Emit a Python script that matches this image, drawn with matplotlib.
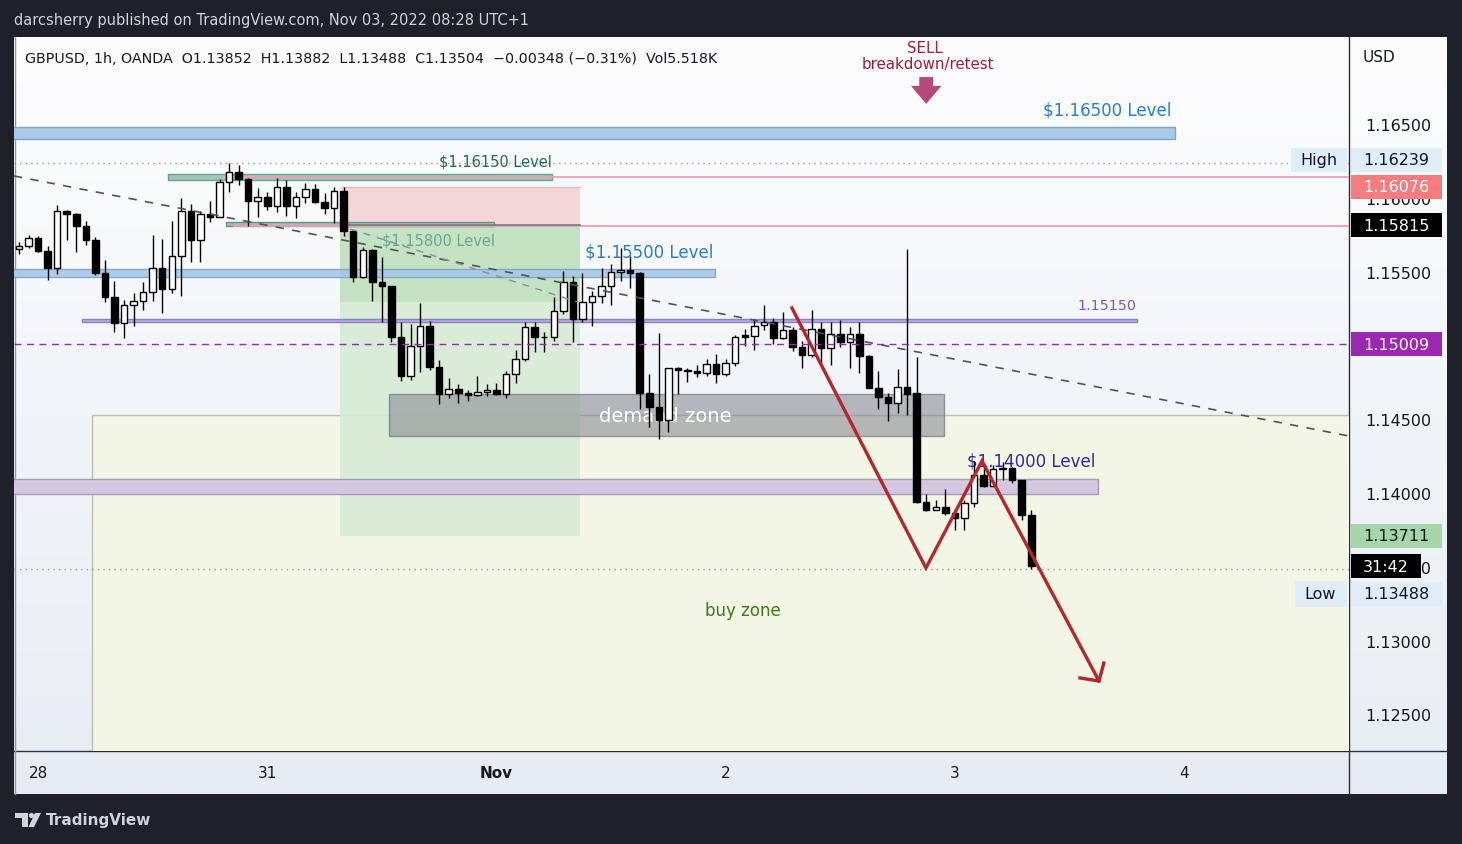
import numpy as np
import matplotlib
matplotlib.use("Agg")
import matplotlib.pyplot as plt
from matplotlib.patches import Rectangle, Polygon, Circle
from matplotlib.colors import LinearSegmentedColormap

# GBPUSD 1h (OANDA) hourly candles (bar index 0 = first visible)
opens = [1.15653, 1.15671, 1.15729, 1.15641, 1.15522, 1.15908, 1.15888, 1.15810, 1.15716, 1.15492,
         1.15329, 1.15153, 1.15273, 1.15298, 1.15359, 1.15524, 1.15383, 1.15603, 1.15908, 1.15716,
         1.15890, 1.15872, 1.16105, 1.16173, 1.16129, 1.15980, 1.16003, 1.15946, 1.16071, 1.15946,
         1.16003, 1.16059, 1.15973, 1.15933, 1.16048, 1.15777, 1.15463, 1.15646, 1.15431, 1.15404,
         1.15058, 1.14793, 1.14993, 1.15130, 1.14855, 1.14669, 1.14705, 1.14678, 1.14667, 1.14681,
         1.14697, 1.14674, 1.14803, 1.14911, 1.15122, 1.15058, 1.15060, 1.15230, 1.15427, 1.15176,
         1.15291, 1.15336, 1.15404, 1.15495, 1.15508, 1.15488, 1.14676, 1.14583, 1.14495, 1.14850,
         1.14830, 1.14828, 1.14810, 1.14871, 1.14803, 1.14878, 1.15072, 1.15064, 1.15135, 1.15156,
         1.15047, 1.15101, 1.14990, 1.14936, 1.15108, 1.14979, 1.15074, 1.15020, 1.15078, 1.14929,
         1.14708, 1.14651, 1.14613, 1.14715, 1.14676, 1.13939, 1.13885, 1.13905, 1.13867, 1.13833,
         1.13935, 1.14125, 1.14048, 1.14161, 1.14172, 1.14088, 1.13852]
highs = [1.15698, 1.15747, 1.15743, 1.15671, 1.15951, 1.15917, 1.15897, 1.15842, 1.15734, 1.15578,
         1.15436, 1.15307, 1.15354, 1.15427, 1.15747, 1.15720, 1.15842, 1.15996, 1.15956, 1.15908,
         1.15978, 1.16127, 1.16239, 1.16222, 1.16132, 1.16066, 1.16037, 1.16134, 1.16122, 1.16037,
         1.16098, 1.16093, 1.16030, 1.16071, 1.16075, 1.15780, 1.15668, 1.15653, 1.15596, 1.15404,
         1.15156, 1.15144, 1.15286, 1.15162, 1.14900, 1.14778, 1.14737, 1.14701, 1.14791, 1.14737,
         1.14744, 1.14825, 1.14968, 1.15156, 1.15156, 1.15088, 1.15325, 1.15505, 1.15467, 1.15490,
         1.15370, 1.15522, 1.15551, 1.15657, 1.15607, 1.15499, 1.14805, 1.15081, 1.14850, 1.14852,
         1.14846, 1.14866, 1.14907, 1.14945, 1.14905, 1.15072, 1.15110, 1.15178, 1.15273, 1.15185,
         1.15223, 1.15128, 1.15027, 1.15239, 1.15156, 1.15156, 1.15171, 1.15126, 1.15156, 1.14935,
         1.14825, 1.14676, 1.14839, 1.15653, 1.14922, 1.13991, 1.13951, 1.14025, 1.13870, 1.13953,
         1.14217, 1.14206, 1.14188, 1.14210, 1.14177, 1.14090, 1.13882]
lows = [1.15619, 1.15659, 1.15634, 1.15444, 1.15483, 1.15716, 1.15634, 1.15682, 1.15478, 1.15295,
        1.15092, 1.15047, 1.15133, 1.15241, 1.15302, 1.15221, 1.15354, 1.15336, 1.15566, 1.15566,
        1.15836, 1.15868, 1.16041, 1.16088, 1.15810, 1.15872, 1.15919, 1.15901, 1.15878, 1.15861,
        1.15962, 1.15962, 1.15890, 1.15827, 1.15743, 1.15429, 1.15454, 1.15302, 1.15160, 1.15024,
        1.14760, 1.14766, 1.14817, 1.14834, 1.14602, 1.14642, 1.14608, 1.14624, 1.14654, 1.14654,
        1.14663, 1.14644, 1.14742, 1.14895, 1.14952, 1.14956, 1.15027, 1.15212, 1.15020, 1.15156,
        1.15133, 1.15284, 1.15273, 1.15438, 1.15386, 1.14568, 1.14444, 1.14369, 1.14414, 1.14669,
        1.14749, 1.14787, 1.14793, 1.14742, 1.14793, 1.14861, 1.14997, 1.14970, 1.15105, 1.15008,
        1.15042, 1.14959, 1.14850, 1.14922, 1.14878, 1.14868, 1.14986, 1.14850, 1.14810, 1.14708,
        1.14568, 1.14488, 1.14539, 1.14529, 1.13935, 1.13878, 1.13882, 1.13849, 1.13749, 1.13749,
        1.13905, 1.14041, 1.14045, 1.14088, 1.14071, 1.13817, 1.13488]
closes = [1.15671, 1.15729, 1.15641, 1.15522, 1.15908, 1.15888, 1.15810, 1.15716, 1.15492, 1.15329,
          1.15153, 1.15273, 1.15298, 1.15359, 1.15524, 1.15383, 1.15603, 1.15908, 1.15716, 1.15890,
          1.15872, 1.16105, 1.16173, 1.16129, 1.15980, 1.16003, 1.15946, 1.16071, 1.15946, 1.16003,
          1.16059, 1.15973, 1.15933, 1.16048, 1.15777, 1.15463, 1.15646, 1.15431, 1.15404, 1.15058,
          1.14793, 1.14993, 1.15130, 1.14855, 1.14669, 1.14705, 1.14678, 1.14667, 1.14681, 1.14697,
          1.14674, 1.14803, 1.14911, 1.15122, 1.15058, 1.15060, 1.15230, 1.15427, 1.15176, 1.15291,
          1.15336, 1.15404, 1.15495, 1.15508, 1.15488, 1.14676, 1.14583, 1.14495, 1.14850, 1.14830,
          1.14828, 1.14810, 1.14871, 1.14803, 1.14878, 1.15058, 1.15058, 1.15133, 1.15156, 1.15047,
          1.15101, 1.14990, 1.14936, 1.15108, 1.14979, 1.15074, 1.15020, 1.15078, 1.14929, 1.14708,
          1.14651, 1.14613, 1.14715, 1.14674, 1.13939, 1.13885, 1.13905, 1.13867, 1.13833, 1.13935,
          1.14125, 1.14048, 1.14161, 1.14172, 1.14088, 1.13852, 1.13504]
volume_k = 5.518

# time axis (bar index of each day start)
day_ticks = [2, 26, 50, 74, 98, 122]
day_labels = ["28", "31", "Nov", "2", "3", "4"]
price_ticks = [1.125, 1.130, 1.135, 1.140, 1.145, 1.150, 1.155, 1.160, 1.165]

# drawings: (bar_start, bar_end, price_low, price_high)
band_1165 = (-1, 121.05, 1.16398, 1.16480)
band_11615 = (15.6, 55.8, 1.16121, 1.16161)
band_1158 = (21.7, 49.7, 1.15809, 1.15836)
band_1155 = (-1, 72.9, 1.15464, 1.15518)
band_11515 = (6.6, 117.1, 1.15159, 1.15179)
band_114 = (-1, 113.0, 1.13993, 1.14095)
demand_zone = (38.7, 96.9, 1.14386, 1.14669)
buy_zone = (7.6, 145, 1.10, 1.14528)
# short position tool
pos_start, pos_end = 33.8, 58.7
stop_price, entry_price, target_price = 1.16076, 1.15815, 1.13711
open_pnl_price = 1.15294
pink_lines = [(23.0, 1.16141), (22.5, 1.15812)]
day_high, day_low = 1.16239, 1.13488
price_line = 1.15009
trend_main = ([-0.52, 139.27], [1.16148, 1.14386])
trend_faint = ([34.7, 58.5], [1.15789, 1.15294])
zigzag_x = [80.94, 94.97, 100.84, 113.09]
zigzag_y = [1.15253, 1.13492, 1.14217, 1.12726]
arrow_wing_x = [111.1, 113.09, 113.6]
arrow_wing_y = [1.12747, 1.12726, 1.12848]

W, H = 1462, 845
fig = plt.figure(figsize=(W / 100, H / 100), dpi=100, facecolor="#1e2129")

# pixel-space background layer
bg = fig.add_axes([0, 0, 1, 1])
bg.set_xlim(0, W)
bg.set_ylim(H, 0)
bg.axis("off")
cmap = LinearSegmentedColormap.from_list("tvbg", ["#fdfdfe", "#e6edf2"])
bg.imshow(np.linspace(0, 1, 256)[:, None], extent=(14, 1447, 795, 38), cmap=cmap,
          aspect="auto", zorder=0)
bg.plot([14, 1447], [752, 752], color="#2a2e39", lw=1, zorder=1)
bg.plot([1349, 1349], [38, 795], color="#2a2e39", lw=1, zorder=1)
bg.plot([14.5, 14.5], [38, 795], color="#9598a1", lw=1, zorder=1)

ax = fig.add_axes([14 / W, (H - 752) / H, 1335 / W, 714 / H])
ax.set_facecolor("none")
ax.set_xlim(-0.52, 139.27)
ax.set_ylim(1.12252, 1.170894)
for s in ax.spines.values():
    s.set_visible(False)
ax.yaxis.tick_right()
ax.set_yticks(price_ticks)
ax.set_yticklabels(["%.5f" % p for p in price_ticks])
ax.tick_params(axis="y", length=0, pad=11.5, labelsize=11.5, labelcolor="#131722")
ax.set_xticks(day_ticks)
ax.set_xticklabels(day_labels)
ax.tick_params(axis="x", length=0, pad=10, labelsize=11, labelcolor="#131722")
for t in ax.get_xticklabels():
    if t.get_text() == "Nov":
        t.set_fontweight("bold")

# overlay layer (pixel space) for price-axis tags and header texts
ov = fig.add_axes([0, 0, 1, 1])
ov.set_xlim(0, W)
ov.set_ylim(H, 0)
ov.axis("off")
ov.set_facecolor("none")


def rect(zone, fc, ec="none", lw=1.0, z=2, alpha=1.0):
    x0, x1, p0, p1 = zone
    ax.add_patch(Rectangle((x0, p0), x1 - x0, p1 - p0, fc=fc, ec=ec, lw=lw, zorder=z, alpha=alpha))


# zones and level bands
rect(buy_zone, "#f3f6e4", ec="#bcc0ad", z=1)
rect((pos_start, pos_end, entry_price, stop_price), "#f5d6d6", z=1.5)
ax.plot([pos_start, pos_end], [stop_price, stop_price], color="#f2b8bd", lw=1, zorder=1.6)
rect((pos_start - 0.2, pos_end, target_price, open_pnl_price), "#d6ebd5", z=1.5, alpha=0.9)
rect((pos_start - 0.2, pos_end, open_pnl_price, entry_price), "#c4e3c3", z=1.5)
rect(band_1165, "#a9c9e8", ec="#7fa6c9", z=2)
rect(band_11615, "#9fc6b9", ec="#6f9e8f", z=2)
rect(band_1158, "#9fbfb3", ec="#6f8f85", z=2)
rect(band_1155, "#a6c8e7", ec="#7ea3c6", z=2.5, alpha=0.9)
rect(band_11515, "#b9aedb", ec="#8d7fc2", z=2)
rect(band_114, "#d3c8df", ec="#a399b8", z=2)
rect(demand_zone, "#868990", ec="#5f626a", z=3, alpha=0.58)
for x0, p in pink_lines:
    ax.plot([x0, 145], [p, p], color="#f29bb5", lw=1.3, zorder=2.2)
ax.plot([pos_start, pos_end], [entry_price, entry_price], color="#787b86", lw=1.2, zorder=2.3)

# candles
idx = np.arange(len(opens))
o, hi, lo, c = (np.array(v) for v in (opens, highs, lows, closes))
up = c >= o
ax.vlines(idx, lo, hi, color="black", lw=1, zorder=5)
body_lo = np.minimum(o, c)
body_h = np.maximum(np.abs(c - o), 0.00002)
ax.bar(idx, body_h, bottom=body_lo, width=0.68, color=np.where(up, "white", "black"),
       edgecolor="black", linewidth=1, zorder=6)

# lines drawn over the series
ax.axhline(day_high, color="#9598a1", lw=1, ls=(0, (1, 3)), zorder=4)
ax.axhline(day_low, color="#9598a1", lw=1, ls=(0, (1, 3)), zorder=4)
ax.axhline(price_line, color="#9c27b0", lw=1, ls=(0, (5, 4)), zorder=7)
ax.plot(*trend_main, color="#50535e", lw=1.2, ls=(0, (5, 5)), zorder=7)
ax.plot(*trend_faint, color="#8a8d96", lw=1, ls=(0, (5, 5)), zorder=7)
ax.plot(zigzag_x, zigzag_y, color="#b5262f", lw=2.4, zorder=8, solid_joinstyle="miter")
ax.plot(arrow_wing_x, arrow_wing_y, color="#b5262f", lw=2.4, zorder=8)

# drawing labels
ax.text(114.0, 1.16595, "$1.16500 Level", color="#2a7dc9", fontsize=12, ha="center", va="center", zorder=9)
ax.text(49.9, 1.16249, "$1.16150 Level", color="#1f6b50", fontsize=10.5, ha="center", va="center", zorder=9)
ax.text(43.9, 1.15714, "$1.15800 Level", color="#6aa88b", fontsize=10.5, ha="center", va="center", zorder=4)
ax.text(66.0, 1.15633, "$1.15500 Level", color="#2a7dc9", fontsize=12, ha="center", va="center", zorder=9)
ax.text(113.9, 1.15274, "1.15150", color="#7e57c2", fontsize=10.3, ha="center", va="center", zorder=9)
ax.text(67.7, 1.14528, "demand zone", color="white", fontsize=14, ha="center", va="center", zorder=4)
ax.text(106.0, 1.14217, "$1.14000 Level", color="#35299a", fontsize=12, ha="center", va="center", zorder=4)
ax.text(75.8, 1.13207, "buy zone", color="#3a7a1e", fontsize=12, ha="center", va="center", zorder=4)
ax.text(94.9, 1.17015, "SELL", color="#a01c3c", fontsize=10.8, ha="center", va="center", zorder=9)
ax.text(95.2, 1.16907, "breakdown/retest", color="#a01c3c", fontsize=10.8, ha="center", va="center", zorder=9)
ax.annotate("", xy=(95.0, 1.16636), xytext=(95.0, 1.16818), zorder=9,
            arrowprops=dict(arrowstyle="simple,head_length=0.65,head_width=1.1,tail_width=0.5",
                            fc="#b4497c", ec="none", mutation_scale=20, shrinkA=0, shrinkB=0))


def py(p):
    return ov.transData.inverted().transform(ax.transData.transform((0, p)))[1]


def axis_tag(p, text, fc, tc, shift=0, x0=1351, w=91):
    y = py(p) + shift
    ov.add_patch(Rectangle((x0, y - 12), w, 24, fc=fc, ec="none", zorder=5))
    ov.text(x0 + w / 2, y, text, color=tc, fontsize=11.5, ha="center", va="center", zorder=6)
    return y


yh = axis_tag(day_high, "%.5f" % day_high, "#e1ecf9", "#131722", shift=-3)
ov.add_patch(Rectangle((1291, yh - 12), 56, 24, fc="#e1ecf9", ec="none", zorder=5))
ov.text(1319, yh, "High", color="#131722", fontsize=11.5, ha="center", va="center", zorder=6)
axis_tag(stop_price, "%.5f" % stop_price, "#f77c80", "white")
axis_tag(entry_price, "%.5f" % entry_price, "black", "white")
axis_tag(price_line, "%.5f" % price_line, "#9c27b0", "white")
axis_tag(target_price, "%.5f" % target_price, "#a5d6a7", "#131722")
axis_tag(closes[-1], "31:42", "black", "white", w=70)
yl = axis_tag(day_low, "%.5f" % day_low, "#e1ecf9", "#131722", shift=25)
ov.add_patch(Rectangle((1295, yl - 13), 52, 26, fc="#e1ecf9", ec="none", zorder=5))
ov.text(1320, yl, "Low", color="#131722", fontsize=11.5, ha="center", va="center", zorder=6)
ov.text(1363, 58, "USD", color="#131722", fontsize=11, ha="left", va="center", zorder=6)

# legend header
chg = closes[-1] - closes[-2]
header = ("GBPUSD, 1h, OANDA  O%.5f  H%.5f  L%.5f  C%.5f  \u2212%.5f (\u2212%.2f%%)  Vol%.3fK"
          % (opens[-1], highs[-1], lows[-1], closes[-1], abs(chg), abs(chg) / closes[-2] * 100, volume_k))
ov.text(25, 59, header, color="#131722", fontsize=10.3, ha="left", va="center", zorder=6)
ov.text(14, 20, "darcsherry published on TradingView.com, Nov 03, 2022 08:28 UTC+1",
        color="#d1d4dc", fontsize=10.5, ha="left", va="center")

# TradingView logo
ov.add_patch(Polygon([(15, 814), (28, 814), (28, 828), (22, 828), (22, 819), (15, 819)],
                     closed=True, fc="#d1d4dc", ec="none"))
ov.add_patch(Circle((31.5, 816.5), 2.6, fc="#d1d4dc", ec="none"))
ov.add_patch(Polygon([(35, 814), (41, 814), (34, 828), (28.5, 828)], closed=True, fc="#d1d4dc", ec="none"))
ov.text(46, 821, "TradingView", color="#d1d4dc", fontsize=11, fontweight="semibold",
        ha="left", va="center")

fig.savefig("out.png", dpi=100, facecolor=fig.get_facecolor())
